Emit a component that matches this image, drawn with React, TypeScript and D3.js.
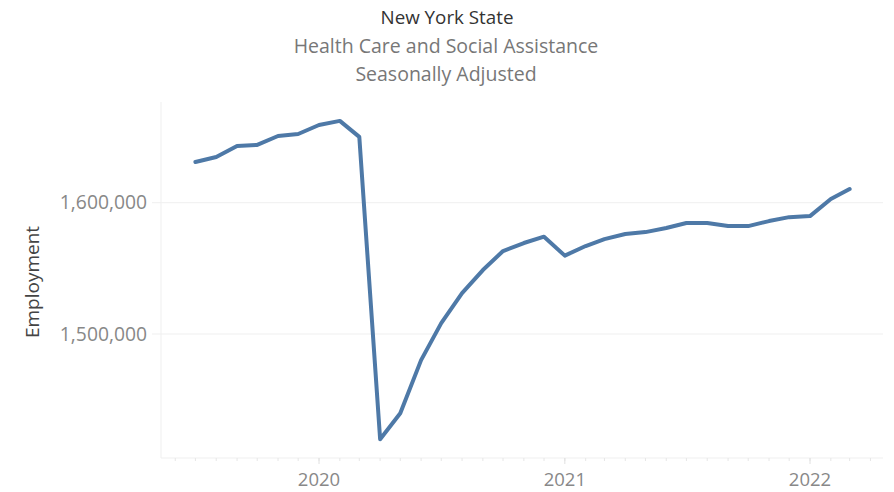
import React from "react";
import * as d3 from "d3";

const months: string[] = [
  "2019-07", "2019-08", "2019-09", "2019-10", "2019-11", "2019-12",
  "2020-01", "2020-02", "2020-03", "2020-04", "2020-05", "2020-06",
  "2020-07", "2020-08", "2020-09", "2020-10", "2020-11", "2020-12",
  "2021-01", "2021-02", "2021-03", "2021-04", "2021-05", "2021-06",
  "2021-07", "2021-08", "2021-09", "2021-10", "2021-11", "2021-12",
  "2022-01", "2022-02", "2022-03",
];
const employment: number[] = [
  1631000, 1634800, 1643200, 1644000, 1650800, 1652300,
  1659200, 1662300, 1650100, 1419900, 1439700, 1480100,
  1508300, 1531100, 1548700, 1563200, 1569300, 1574100,
  1559700, 1567000, 1572300, 1576200, 1577600, 1580700,
  1584500, 1584500, 1582200, 1582200, 1586000, 1589000,
  1589800, 1602800, 1610400,
];
const yTicks: number[] = [1500000, 1600000];
const titleLines: string[] = ["New York State", "Health Care and Social Assistance", "Seasonally Adjusted"];
const yAxisLabel = "Employment";

const W = 894, H = 492;
const FONT = "'Open Sans', sans-serif";

export default function App() {
  const parse = d3.timeParse("%Y-%m");
  const data = months.map((m, i) => ({ date: parse(m) as Date, value: employment[i] }));

  const x = d3.scaleTime().domain([new Date(2020, 0, 1), new Date(2022, 0, 1)]).range([319, 810]);
  const y = d3.scaleLinear().domain([1500000, 1600000]).range([334, 202.7]);
  const left = 161, right = 883, top = 102, bottom = 458;

  const monthTicks = d3.timeMonth.range(x.invert(left), x.invert(right));
  const yearTicks = d3.timeYear.range(x.invert(left), x.invert(right));

  const line = d3.line<{ date: Date; value: number }>()
    .x(d => x(d.date))
    .y(d => y(d.value));

  const fmt = d3.format(",");

  return (
    <svg width={W} height={H} style={{ position: "absolute", left: 0, top: 0, background: "#fff" }}>
      {/* titles */}
      <text x={447} y={24} textAnchor="middle" fontFamily={FONT} fontSize={18.8} fill="#333">{titleLines[0]}</text>
      <text x={446} y={53} textAnchor="middle" fontFamily={FONT} fontSize={19.5} fill="#777">{titleLines[1]}</text>
      <text x={446} y={81} textAnchor="middle" fontFamily={FONT} fontSize={19.5} fill="#777">{titleLines[2]}</text>

      {/* gridlines */}
      {yTicks.map(t => (
        <g key={t}>
          <line x1={152} x2={right} y1={y(t)} y2={y(t)} stroke="#efefef" strokeWidth={1} />
          <text x={147} y={y(t)} dy="0.35em" textAnchor="end" fontFamily={FONT} fontSize={19.3} fill="#888">{fmt(t)}</text>
        </g>
      ))}

      {/* axes lines */}
      <line x1={left} x2={left} y1={top} y2={bottom} stroke="#efefef" strokeWidth={1} />
      <line x1={left} x2={right} y1={bottom} y2={bottom} stroke="#efefef" strokeWidth={1} />
      {monthTicks.map(d => (
        <line key={+d} x1={x(d)} x2={x(d)} y1={bottom} y2={bottom + 3} stroke="#e6e6e6" strokeWidth={1} />
      ))}
      {yearTicks.map(d => (
        <g key={+d}>
          <line x1={x(d)} x2={x(d)} y1={bottom} y2={bottom + 6} stroke="#e0e0e0" strokeWidth={1} />
          <text x={x(d)} y={486} textAnchor="middle" fontFamily={FONT} fontSize={18.5} fill="#888">{d3.timeFormat("%Y")(d)}</text>
        </g>
      ))}

      {/* y axis title */}
      <text transform={`translate(39,282) rotate(-90)`} textAnchor="middle" fontFamily={FONT} fontSize={19} fill="#444">{yAxisLabel}</text>

      {/* line */}
      <path d={line(data) ?? ""} fill="none" stroke="#4e79a7" strokeWidth={4} strokeLinejoin="round" strokeLinecap="round" />
    </svg>
  );
}
